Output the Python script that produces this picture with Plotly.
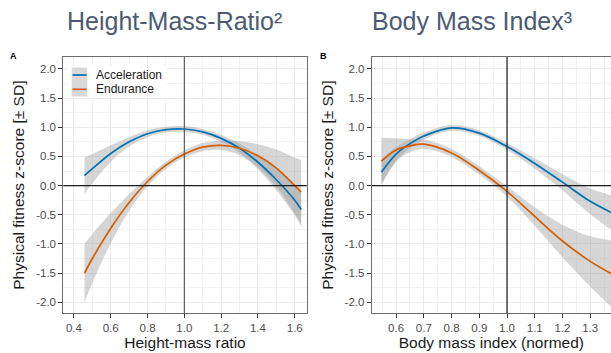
import plotly.graph_objects as go

W, H = 611, 353

# ---------------- data ----------------
series_names = ["Acceleration", "Endurance"]
series_colors = ["#0072B2", "#D55E00"]

# Panel A: Height-mass ratio (quadratic fit)
hmr_x = [0.457, 0.5, 0.6, 0.7, 0.8, 0.9, 1.0, 1.1, 1.2, 1.3, 1.4, 1.5, 1.6, 1.635]
hmr_acc = [0.17, 0.29, 0.55, 0.75, 0.89, 0.96, 0.97, 0.92, 0.81, 0.64, 0.40, 0.10, -0.25, -0.41]
hmr_acc_ci = [0.31, 0.25, 0.14, 0.08, 0.06, 0.05, 0.05, 0.05, 0.06, 0.08, 0.12, 0.18, 0.26, 0.30]
hmr_end = [-1.50, -1.25, -0.73, -0.29, 0.07, 0.35, 0.54, 0.66, 0.69, 0.64, 0.51, 0.30, 0.00, -0.11]
hmr_end_ci = [0.50, 0.42, 0.26, 0.14, 0.08, 0.06, 0.06, 0.07, 0.08, 0.12, 0.20, 0.32, 0.48, 0.55]

# Panel B: Body mass index (normed) (cubic fit)
bmi_x = [0.547, 0.6, 0.65, 0.7, 0.8, 0.9, 1.0, 1.1, 1.2, 1.3, 1.38]
bmi_acc = [0.23, 0.54, 0.72, 0.85, 0.99, 0.90, 0.67, 0.38, 0.06, -0.27, -0.47]
bmi_acc_ci = [0.22, 0.12, 0.08, 0.06, 0.05, 0.05, 0.06, 0.09, 0.14, 0.22, 0.30]
bmi_end = [0.42, 0.61, 0.68, 0.71, 0.56, 0.26, -0.10, -0.53, -0.95, -1.30, -1.52]
bmi_end_ci = [0.40, 0.20, 0.11, 0.08, 0.07, 0.07, 0.09, 0.16, 0.28, 0.43, 0.58]

y_ticks = [-2.0, -1.5, -1.0, -0.5, 0.0, 0.5, 1.0, 1.5, 2.0]
hmr_ticks = [0.4, 0.6, 0.8, 1.0, 1.2, 1.4, 1.6]
bmi_ticks = [0.6, 0.7, 0.8, 0.9, 1.0, 1.1, 1.2, 1.3]

titles = ["Height-Mass-Ratio²", "Body Mass Index³"]
x_titles = ["Height-mass ratio", "Body mass index (normed)"]
y_title = "Physical fitness z-score [± SD]"
panel_tags = ["A", "B"]

# ---------------- figure ----------------
FONT = "Liberation Sans, Arial, Helvetica, sans-serif"
BAND = "rgba(153,153,153,0.4)"

def px(x):
    return x / W

def py(y):
    return 1 - y / H

fig = go.Figure()

panels = [
    ("x", "y", hmr_x, [(hmr_acc, hmr_acc_ci), (hmr_end, hmr_end_ci)]),
    ("x2", "y2", bmi_x, [(bmi_acc, bmi_acc_ci), (bmi_end, bmi_end_ci)]),
]

for xa, ya, xs, groups in panels:
    for (ys, ci) in groups:
        up = [a + b for a, b in zip(ys, ci)]
        lo = [a - b for a, b in zip(ys, ci)]
        fig.add_trace(go.Scatter(
            x=xs, y=lo, mode="lines", line=dict(width=0, shape="spline", smoothing=1),
            hoverinfo="skip", showlegend=False, xaxis=xa, yaxis=ya))
        fig.add_trace(go.Scatter(
            x=xs, y=up, mode="lines", fill="tonexty", fillcolor=BAND,
            line=dict(width=0, shape="spline", smoothing=1),
            hoverinfo="skip", showlegend=False, xaxis=xa, yaxis=ya))
    for (ys, ci), name, col in zip(groups, series_names, series_colors):
        fig.add_trace(go.Scatter(
            x=xs, y=ys, mode="lines", name=name,
            line=dict(color=col, width=1.7, shape="spline", smoothing=1),
            showlegend=False, xaxis=xa, yaxis=ya))

grid_major = "#EBEBEB"
grid_minor = "#F2F2F2"
tickfont = dict(family=FONT, size=11.5, color="#4D4D4D")
titlefont = dict(family=FONT, size=15.5, color="#1A1A1A")

common_x = dict(showline=True, linecolor="#6E6E6E", linewidth=1, ticks="outside",
                ticklen=4, tickcolor="#333333", tickfont=tickfont, showgrid=True,
                gridcolor=grid_major, gridwidth=1.3, zeroline=False, automargin=False)
common_y = dict(showline=True, linecolor="#6E6E6E", linewidth=1, ticks="outside",
                ticklen=4, tickcolor="#333333", tickfont=tickfont, showgrid=True,
                gridcolor=grid_major, gridwidth=1.3, zeroline=False, automargin=False,
                range=[-2.19, 2.205], tickvals=y_ticks,
                ticktext=[f"{v:.1f}" for v in y_ticks],
                minor=dict(dtick=0.25, tick0=0, showgrid=True, gridcolor=grid_minor, gridwidth=1),
                title=dict(text=y_title, font=titlefont, standoff=7))

fig.update_layout(
    width=W, height=H, margin=dict(l=0, r=0, t=0, b=0),
    paper_bgcolor="white", plot_bgcolor="white", showlegend=False,
    font=dict(family=FONT),
    xaxis=dict(common_x, domain=[px(63.3), px(306.7)], range=[0.342, 1.665],
               tickvals=hmr_ticks, ticktext=[f"{v:.1f}" for v in hmr_ticks],
               minor=dict(dtick=0.1, tick0=0, showgrid=True, gridcolor=grid_minor, gridwidth=1),
               mirror=True, anchor="y",
               title=dict(text=x_titles[0], font=titlefont, standoff=4)),
    yaxis=dict(common_y, domain=[py(313.3), py(57)], mirror=True, anchor="x"),
    xaxis2=dict(common_x, domain=[px(371.7), 1.0], range=[0.512, 1.375],
                tickvals=bmi_ticks, ticktext=[f"{v:.1f}" for v in bmi_ticks],
                minor=dict(dtick=0.05, tick0=0, showgrid=True, gridcolor=grid_minor, gridwidth=1),
                mirror=True, anchor="y2",
                title=dict(text=x_titles[1], font=titlefont, standoff=4)),
    yaxis2=dict(common_y, domain=[py(313.3), py(57)], mirror=False, anchor="x2"),
)

# reference lines
shapes = [
    dict(type="line", xref="x", yref="y domain", x0=1.0, x1=1.0, y0=0, y1=1,
         line=dict(color="#5A5A5A", width=1.2), layer="above"),
    dict(type="line", xref="x domain", yref="y", x0=0, x1=1, y0=0, y1=0,
         line=dict(color="#1A1A1A", width=1.2), layer="above"),
    dict(type="line", xref="x2", yref="y2 domain", x0=1.0, x1=1.0, y0=0, y1=1,
         line=dict(color="#1A1A1A", width=1.2), layer="above"),
    dict(type="line", xref="x2 domain", yref="y2", x0=0, x1=1, y0=0, y1=0,
         line=dict(color="#1A1A1A", width=1.2), layer="above"),
]

# legend (manual, inside panel A)
shapes.append(dict(type="rect", xref="paper", yref="paper", x0=px(68), x1=px(167),
                   y0=py(98), y1=py(66), fillcolor="white", line=dict(width=0), layer="above"))
shapes.append(dict(type="rect", xref="paper", yref="paper", x0=px(71.7), x1=px(87.3),
                   y0=py(96.5), y1=py(67.5), fillcolor="#D9D9D9", line=dict(width=0), layer="above"))
annotations = []
for i, (name, col) in enumerate(zip(series_names, series_colors)):
    yy = 75 + i * 14.3
    shapes.append(dict(type="line", xref="paper", yref="paper", x0=px(72.5), x1=px(86.5),
                       y0=py(yy), y1=py(yy), line=dict(color=col, width=1.7), layer="above"))
    annotations.append(dict(xref="paper", yref="paper", x=px(94), y=py(yy), text=name,
                            showarrow=False, xanchor="left", yanchor="middle",
                            font=dict(family=FONT, size=12, color="#1A1A1A")))

# panel titles
for t, x0 in zip(titles, [65, 370]):
    annotations.append(dict(xref="paper", yref="paper", x=px(x0), y=py(21), text=t,
                            showarrow=False, xanchor="left", yanchor="middle",
                            font=dict(family=FONT, size=25, color="#4B5B72")))
# panel tags
for t, x0 in zip(panel_tags, [13, 323]):
    annotations.append(dict(xref="paper", yref="paper", x=px(x0), y=py(56), text=t,
                            showarrow=False, xanchor="center", yanchor="middle",
                            font=dict(family=FONT, size=9, color="black", weight="bold")))

fig.update_layout(shapes=shapes, annotations=annotations)
fig.write_html("out.html")
